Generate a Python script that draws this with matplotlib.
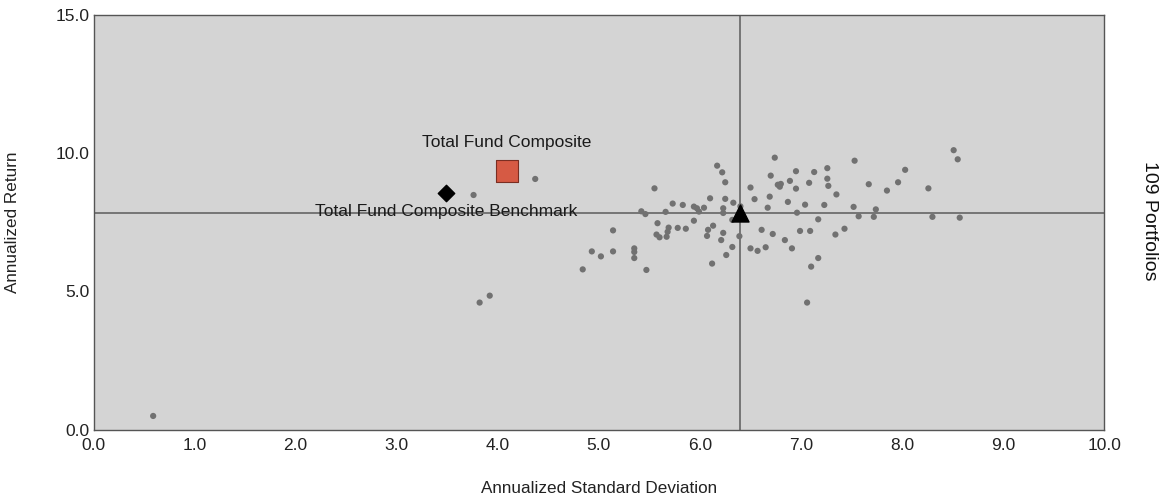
import matplotlib
matplotlib.use("Agg")
import matplotlib.pyplot as plt

plt.rcParams['font.family'] = ['Liberation Sans', 'DejaVu Sans']

# Peer universe portfolios (annualized std dev, annualized return)
peer_sd = [0.59, 3.76, 3.82, 3.92, 4.37,
           4.84, 4.93, 5.02, 5.14, 5.14, 5.35, 5.35, 5.35, 5.47, 5.42, 5.46, 5.55, 5.58,
           5.57, 5.60, 5.66, 5.69, 5.68, 5.67, 5.73, 5.78, 5.83, 5.86, 5.94, 5.97, 5.99,
           5.94, 6.04, 6.10, 6.13, 6.08, 6.07, 6.12, 6.17, 6.22, 6.25, 6.25, 6.33, 6.23,
           6.23, 6.32, 6.23, 6.21, 6.39, 6.40, 6.32, 6.26, 6.50, 6.54, 6.50, 6.57, 6.65,
           6.61, 6.67, 6.69, 6.70, 6.74, 6.72, 6.77, 6.80, 6.79, 6.84, 6.87, 6.89, 6.91,
           6.95, 6.95, 6.96, 6.99, 7.04, 7.06, 7.08, 7.09, 7.10, 7.13, 7.17, 7.17, 7.23,
           7.26, 7.26, 7.27, 7.35, 7.34, 7.43, 7.53, 7.52, 7.57, 7.67, 7.74, 7.72, 7.85,
           7.96, 8.03, 8.26, 8.30, 8.51, 8.55, 8.57]
peer_ret = [0.49, 8.48, 4.59, 4.84, 9.06,
            5.79, 6.44, 6.26, 6.44, 7.20, 6.55, 6.42, 6.20, 5.77, 7.89, 7.79, 8.72, 7.46,
            7.05, 6.95, 7.87, 7.30, 7.15, 6.97, 8.17, 7.29, 8.12, 7.26, 8.06, 8.00, 7.88,
            7.55, 8.02, 8.36, 7.37, 7.22, 7.00, 6.00, 9.54, 9.30, 8.94, 8.34, 8.20, 8.00,
            7.83, 7.58, 7.11, 6.85, 6.99, 8.07, 6.60, 6.31, 8.75, 8.33, 6.55, 6.46, 6.59,
            7.22, 8.02, 8.42, 9.18, 9.83, 7.07, 8.85, 8.88, 8.78, 6.85, 8.23, 8.99, 6.55,
            9.34, 8.71, 7.84, 7.18, 8.13, 4.59, 8.92, 7.18, 5.89, 9.31, 7.60, 6.20, 8.12,
            9.45, 9.07, 8.81, 8.50, 7.05, 7.26, 9.72, 8.05, 7.71, 8.87, 7.96, 7.69, 8.64,
            8.94, 9.39, 8.72, 7.69, 10.10, 9.77, 7.66]

fund_name = "Total Fund Composite"
fund_sd, fund_ret = 4.09, 9.36
bench_name = "Total Fund Composite Benchmark"
bench_sd, bench_ret = 3.49, 8.55
median_sd, median_ret = 6.40, 7.83
universe_label = "109 Portfolios"

x_ticks = [0.0, 1.0, 2.0, 3.0, 4.0, 5.0, 6.0, 7.0, 8.0, 9.0, 10.0]
y_ticks = [0.0, 5.0, 10.0, 15.0]

fig = plt.figure(figsize=(11.72, 5.01), dpi=100)
ax = fig.add_axes([0.0798, 0.1427, 0.8624, 0.828])
ax.set_facecolor('#d4d4d4')
ax.set_xlim(0, 10)
ax.set_ylim(0, 15)

ax.axvline(median_sd, color='#6e6e6e', lw=1.3, zorder=1)
ax.axhline(median_ret, color='#6e6e6e', lw=1.3, zorder=1)

ax.scatter(peer_sd, peer_ret, s=20, color='#717171', edgecolors='none', zorder=2)
ax.scatter([median_sd], [median_ret], marker='^', s=150, color='black', zorder=4)
ax.scatter([fund_sd], [fund_ret], marker='s', s=230, color='#d65a44',
           edgecolors='#7a2e22', linewidths=0.8, zorder=5)
ax.scatter([bench_sd], [bench_ret], marker='D', s=70, color='black', zorder=5)

ax.text(fund_sd, fund_ret + 0.75, fund_name, ha='center', va='bottom',
        fontsize=12.5, color='#1a1a1a', zorder=6)
ax.text(bench_sd, bench_ret - 0.4, bench_name, ha='center', va='top',
        fontsize=12.5, color='#1a1a1a', zorder=6)

ax.set_xticks(x_ticks)
ax.set_xticklabels([f"{v:.1f}" for v in x_ticks])
ax.set_yticks(y_ticks)
ax.set_yticklabels([f"{v:.1f}" for v in y_ticks])
ax.tick_params(axis='x', length=0, labelsize=12.5, colors='#222222', pad=6)
ax.tick_params(axis='y', length=0, labelsize=12.5, colors='#222222', pad=3)
for sp in ax.spines.values():
    sp.set_color('#555555')
    sp.set_linewidth(1.0)

ax.set_xlabel("Annualized Standard Deviation", fontsize=12.3, color='#222222')
ax.xaxis.set_label_coords(0.5, -0.124)
ax.set_ylabel("Annualized Return", fontsize=12.3, color='#222222')
ax.yaxis.set_label_coords(-0.0727, 0.5)

fig.text(0.981, 0.56, universe_label, rotation=270, ha='center', va='center',
         fontsize=14, color='#111111')

fig.savefig("out.png", dpi=100)
